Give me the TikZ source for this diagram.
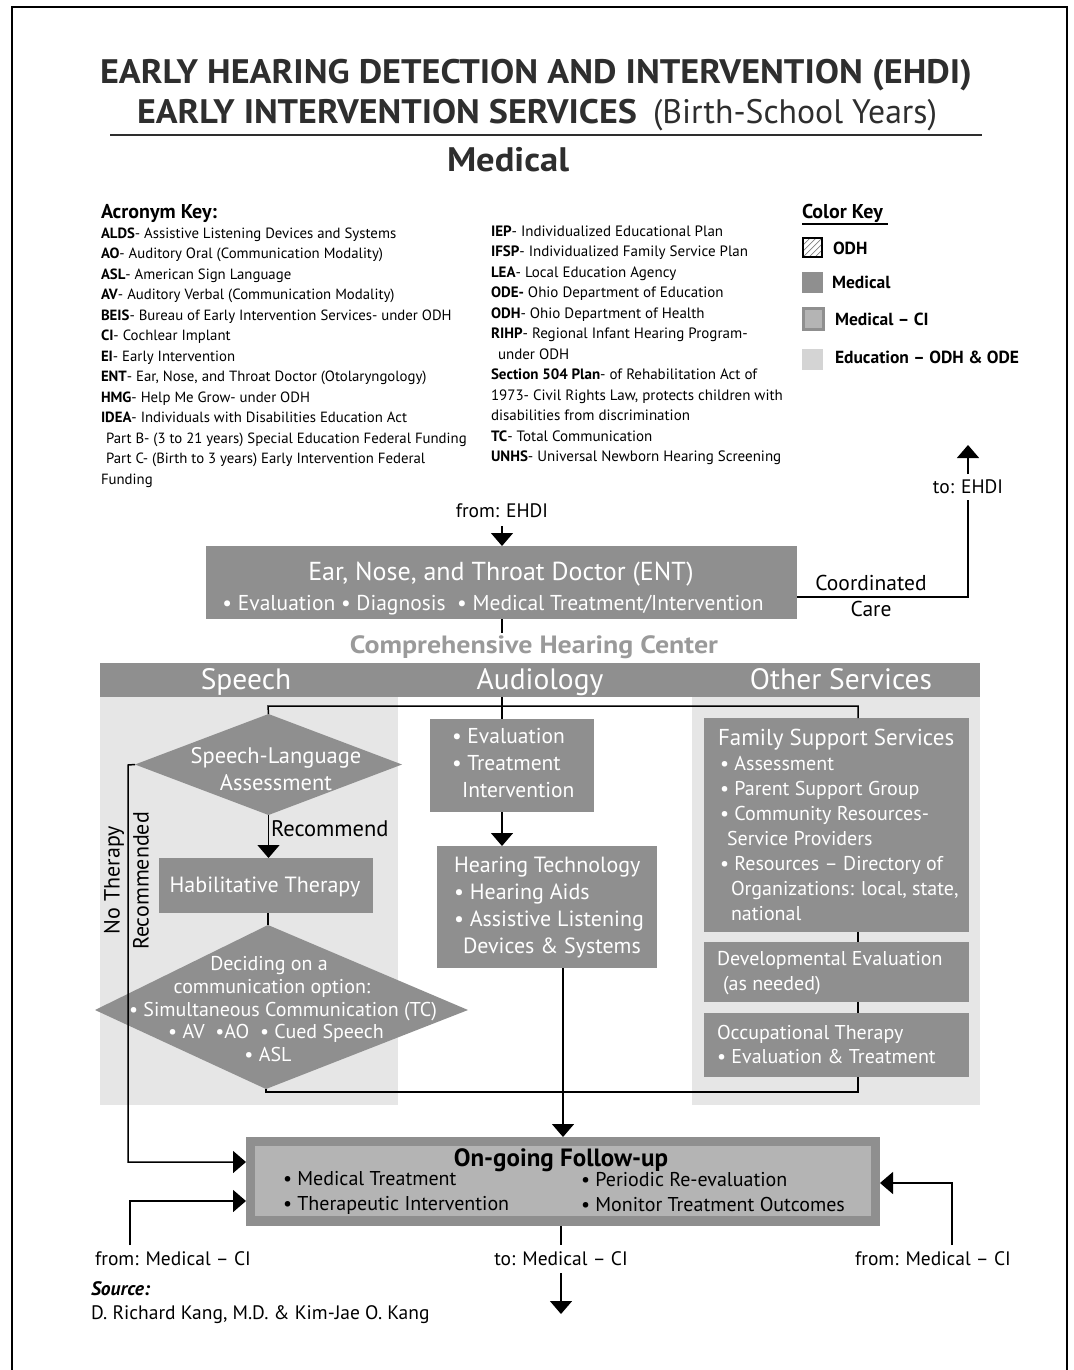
\documentclass[tikz,border=0pt]{standalone}
\usepackage{fontspec}
\usepackage{graphicx}
\setmainfont{PT Sans}
\usetikzlibrary{arrows.meta,shapes.geometric}
\definecolor{medgray}{HTML}{8F8F8F}
\definecolor{lightbg}{HTML}{E6E6E6}
\definecolor{ciinner}{HTML}{B4B4B4}
\definecolor{edugray}{HTML}{D4D4D4}
\definecolor{chcgray}{HTML}{9A9A9A}
\definecolor{titlegray}{HTML}{2E2E2E}
\newcommand{\vtl}[1]{\begin{tabular}[t]{@{}l@{}}#1\end{tabular}}
\newcommand{\vtc}[1]{\begin{tabular}[t]{@{}c@{}}#1\end{tabular}}
\newcommand{\fs}[2]{\fontsize{#1}{#2}\selectfont}
\begin{document}
\begin{tikzpicture}[x=1pt,y=-1pt,
  every node/.style={inner sep=0pt,outer sep=0pt},
  box/.style={fill=medgray,anchor=north west},
  wtxt/.style={text=white},
  conn/.style={line width=1.5pt},
  arr/.style={conn,-{Triangle[width=22pt,length=13pt]}},
  swatch/.style={anchor=north west,minimum width=21pt,minimum height=21pt}]
\useasboundingbox (0,0) rectangle (1073,1370);
% frame
\draw[line width=2.2pt] (12,1375) -- (12,7) -- (1067,7) -- (1067,1375);

% titles
\node[anchor=base,text=titlegray] (title1) at (536,84)
  {\resizebox{872pt}{\height}{\bfseries\fs{34}{36}EARLY HEARING DETECTION AND INTERVENTION (EHDI)}};
\node[anchor=base west,text=titlegray] (title2a) at (137,124)
  {\resizebox{500pt}{\height}{\bfseries\fs{34}{36}EARLY INTERVENTION SERVICES}};
\node[anchor=base west,text=titlegray] (title2b) at (653,124)
  {\resizebox{284pt}{\height}{\fs{34}{36}(Birth-School Years)}};
\draw[titlegray,line width=1.5pt] (110,135) -- (982,135);
\node[anchor=base,text=titlegray] (title3) at (508,171)
  {\resizebox{122pt}{\height}{\bfseries\fs{34}{36}Medical}};

% acronym key
\node[anchor=base west,font=\bfseries\fs{20}{22}] (akey) at (101,218) {Acronym Key:};
\node[anchor=base west,font=\fs{14.8}{20.5}] (acrL) at (101,238) {\vtl{%
\textbf{ALDS}- Assistive Listening Devices and Systems\\
\textbf{AO}- Auditory Oral (Communication Modality)\\
\textbf{ASL}- American Sign Language\\
\textbf{AV}- Auditory Verbal (Communication Modality)\\
\textbf{BEIS}- Bureau of Early Intervention Services- under ODH\\
\textbf{CI}- Cochlear Implant\\
\textbf{EI}- Early Intervention\\
\textbf{ENT}- Ear, Nose, and Throat Doctor (Otolaryngology)\\
\textbf{HMG}- Help Me Grow- under ODH\\
\textbf{IDEA}- Individuals with Disabilities Education Act\\
\hspace*{5pt}Part B- (3 to 21 years) Special Education Federal Funding\\
\hspace*{5pt}Part C- (Birth to 3 years) Early Intervention Federal\\
Funding}};
\node[anchor=base west,font=\fs{15}{20.5}] (acrR) at (491,236) {\vtl{%
\textbf{IEP}- Individualized Educational Plan\\
\textbf{IFSP}- Individualized Family Service Plan\\
\textbf{LEA}- Local Education Agency\\
\textbf{ODE-} Ohio Department of Education\\
\textbf{ODH}- Ohio Department of Health\\
\textbf{RIHP}- Regional Infant Hearing Program-\\
\hspace*{7pt}under ODH\\
\textbf{Section 504 Plan}- of Rehabilitation Act of\\
1973- Civil Rights Law, protects children with\\
disabilities from discrimination\\
\textbf{TC}- Total Communication\\
\textbf{UNHS}- Universal Newborn Hearing Screening}};

% color key
\node[anchor=base west,font=\bfseries\fs{20}{22}] (ckey) at (802,218) {Color Key};
\draw[line width=1.2pt] (802,224) -- (888,224);
\node[swatch,minimum width=19pt,minimum height=19pt] (kodh) at (803,238) {};
\begin{scope}
\clip (803,238) rectangle (822,257);
\foreach \i in {-18,-12,...,18} \draw[gray,line width=0.7pt] (803+\i,257) -- ++(19,-19);
\end{scope}
\draw[line width=1.2pt] (kodh.north west) rectangle (kodh.south east);
\node[anchor=base west,font=\bfseries\fs{17.5}{20}] (kodhT) at (833,254) {ODH};
\node[swatch,fill=medgray] (kmed) at (802,272) {};
\node[anchor=base west,font=\bfseries\fs{17.5}{20}] (kmedT) at (832,288) {Medical};
\node[swatch,fill=ciinner,draw=medgray,line width=3pt,minimum width=20pt,minimum height=21pt] (kci) at (803,308) {};
\node[anchor=base west,font=\bfseries\fs{17.5}{20}] (kciT) at (835,325) {Medical -- CI};
\node[swatch,fill=edugray] (kedu) at (802,349) {};
\node[anchor=base west,font=\bfseries\fs{17.5}{20}] (keduT) at (835,363) {Education -- ODH \& ODE};

% ENT
\node[box,minimum width=591pt,minimum height=73pt] (ent) at (206,546) {};
\node[wtxt,anchor=base,font=\fs{26}{28}] (entT) at (501,580) {Ear, Nose, and Throat Doctor (ENT)};
\node[wtxt,anchor=base,font=\fs{21.5}{24}] (entB) at (493,610) {• Evaluation • Diagnosis\ \ • Medical Treatment/Intervention};
\node[anchor=base,font=\fs{19.5}{22}] (fromEHDI) at (502,517) {from: EHDI};
\node[anchor=base,font=\fs{19.5}{22}] (toEHDI) at (968,493) {to: EHDI};
\coordinate (tipEHDI) at (968,445);
\coordinate (cc1) at (797,597);
\coordinate (cc2) at (968,597);
\node[anchor=base,font=\fs{21.5}{24}] (coordT) at (871,590) {Coordinated};
\node[anchor=base,font=\fs{21.5}{24}] (careT) at (871,616) {Care};
\draw[arr] ([yshift=-9pt]fromEHDI.south) -- (fromEHDI.south |- ent.north);
\draw[arr] ([yshift=5pt]toEHDI.north) -- (tipEHDI);
\draw[conn] ([yshift=-7pt]toEHDI.south) -- (cc2) -- (cc1);
\coordinate (entdown) at (502,633);
\draw[conn] (entdown |- ent.south) -- (entdown);
\node[anchor=base,text=chcgray] (chc) at (534,653) {\resizebox{368pt}{\height}{\bfseries\fs{25}{28}Comprehensive Hearing Center}};

% header band and column backgrounds
\node[fill=lightbg,anchor=north west,minimum width=298pt,minimum height=408pt] (speechbg) at (100,697) {};
\node[fill=lightbg,anchor=north west,minimum width=288pt,minimum height=408pt] (otherbg) at (692,697) {};
\node[box,minimum width=880pt,minimum height=34pt] (hdr) at (100,663) {};
\node[wtxt,anchor=base,font=\fs{29.5}{32}] (hSpeech) at (246,689) {Speech};
\node[wtxt,anchor=base,font=\fs{29.5}{32}] (hAud) at (540,689) {Audiology};
\node[wtxt,anchor=base,font=\fs{29.5}{32}] (hOther) at (841,689) {Other Services};

% speech column
\node[diamond,fill=medgray,minimum width=267pt,minimum height=101pt] (sla) at (268.5,764.5) {};
\node[wtxt,anchor=base,font=\fs{22.5}{27}] (slaT) at (276,763) {\vtc{Speech-Language\\Assessment}};
\node[box,minimum width=214pt,minimum height=55pt] (habil) at (159,858) {};
\node[wtxt,anchor=base,font=\fs{22}{24}] (habilT) at (265,892) {Habilitative Therapy};
\coordinate (d2t) at (268,925);
\coordinate (d2r) at (468,1010);
\coordinate (d2b) at (266,1089);
\coordinate (d2l) at (95,1010);
\fill[medgray] (d2t) -- (d2r) -- (d2b) -- (d2l) -- cycle;
\node[wtxt,anchor=base,font=\fs{20}{22}] (dc1) at (269,970) {Deciding on a};
\node[wtxt,anchor=base,font=\fs{20}{22}] (dc2) at (272,993) {communication option:};
\node[wtxt,anchor=base,font=\fs{20}{22}] (dc3) at (283,1016) {• Simultaneous Communication (TC)};
\node[wtxt,anchor=base,font=\fs{20}{22}] (dc4) at (276,1038) {• AV\ \ •AO\ \ • Cued Speech};
\node[wtxt,anchor=base,font=\fs{20}{22}] (dc5) at (268,1061) {• ASL};
\node[anchor=base west,font=\fs{22.5}{24}] (recT) at (271,836) {Recommend};
\draw[arr] (sla.south) -- (habil.north -| sla.south);
\draw[conn] (habil.south -| d2t) -- (d2t);
\node[rotate=90,font=\fs{22}{24}] (ntA) at (114,880) {No Therapy};
\node[rotate=90,font=\fs{22}{24}] (ntB) at (141,881) {Recommended};

% audiology column
\node[box,minimum width=164pt,minimum height=93pt] (aud1) at (430,719) {};
\node[wtxt,anchor=base west,font=\fs{21.5}{27}] (aud1T) at (452,743) {\vtl{• Evaluation\\• Treatment\\\hspace*{10pt}Intervention}};
\node[box,minimum width=220pt,minimum height=122pt] (hear) at (437,846) {};
\node[wtxt,anchor=base west,font=\fs{22}{27}] (hearT) at (454,872) {\vtl{Hearing Technology\\• Hearing Aids\\• Assistive Listening\\\hspace*{9pt}Devices \& Systems}};
\draw[conn] (hdr.south -| entdown) -- (aud1.north -| entdown);
\draw[arr] (aud1.south -| entdown) -- (hear.north -| entdown);

% other services column
\node[box,minimum width=265pt,minimum height=214pt] (fam) at (704,718) {};
\node[wtxt,anchor=base west,font=\fs{23}{26}] (famT) at (718,745) {Family Support Services};
\node[wtxt,anchor=base west,font=\fs{20}{25}] (famB) at (720,770) {\vtl{• Assessment\\• Parent Support Group\\• Community Resources-\\\hspace*{7pt}Service Providers\\• Resources -- Directory of\\\hspace*{11pt}Organizations: local, state,\\\hspace*{11pt}national}};
\node[box,minimum width=265pt,minimum height=60pt] (dev) at (704,942) {};
\node[wtxt,anchor=base west,font=\fs{20}{25}] (devT) at (717,965) {\vtl{Developmental Evaluation\\\hspace*{6pt}(as needed)}};
\node[box,minimum width=265pt,minimum height=64pt] (ot) at (704,1013) {};
\node[wtxt,anchor=base west,font=\fs{20}{24}] (otT) at (717,1039) {\vtl{Occupational Therapy\\• Evaluation \& Treatment}};

% connectors between columns
\coordinate (t1) at (268,706);
\coordinate (t2) at (858,706);
\coordinate (b1) at (266,1092);
\coordinate (b2) at (858,1092);
\draw[conn] (sla.north) -- (t1) -- (t2) -- (t2 |- fam.north);
\draw[conn] (fam.south -| t2) -- (dev.north -| t2);
\draw[conn] (dev.south -| t2) -- (ot.north -| t2);
\draw[conn] (d2b) -- (b1) -- (b2) -- (ot.south -| b2);

% follow-up
\node[box,minimum width=634pt,minimum height=89pt] (fu) at (246,1137) {};
\node[fill=ciinner,anchor=north west,minimum width=616pt,minimum height=70pt] (fuin) at (255,1146) {};
\node[anchor=base,font=\bfseries\fs{25}{26}] (fuT) at (561,1166) {On-going Follow-up};
\node[anchor=base west,font=\fs{20}{25}] (fuL) at (283,1185) {\vtl{• Medical Treatment\\• Therapeutic Intervention}};
\node[anchor=base west,font=\fs{20}{25}] (fuR) at (581,1186) {\vtl{• Periodic Re-evaluation\\• Monitor Treatment Outcomes}};
\coordinate (h1) at (563,968);
\draw[arr] (h1) -- (h1 |- fu.north);
\coordinate (nt1) at (128,765);
\coordinate (nt2) at (128,1162);
\draw[arr] (sla.west) -- (nt1) -- (nt2) -- (nt2 -| fu.west);
\node[anchor=base,font=\fs{19.5}{22}] (fmL) at (173,1265) {from: Medical -- CI};
\node[anchor=base,font=\fs{19.5}{22}] (fmR) at (933,1265) {from: Medical -- CI};
\node[anchor=base,font=\fs{19.5}{22}] (toM) at (561,1265) {to: Medical -- CI};
\coordinate (fl1) at (130,1245);
\coordinate (fl2) at (130,1201);
\coordinate (fr1) at (952,1245);
\coordinate (fr2) at (952,1183);
\coordinate (tm1) at (561,1245);
\coordinate (tm2) at (561,1273);
\coordinate (tm3) at (561,1314);
\draw[arr] (fl1) -- (fl2) -- (fl2 -| fu.west);
\draw[arr] (fr1) -- (fr2) -- (fr2 -| fu.east);
\draw[conn] (tm1 |- fu.south) -- (tm1);
\draw[arr] (tm2) -- (tm3);

% source
\node[anchor=base west,font=\bfseries\itshape\fs{19.5}{22}] (srcT) at (91,1295) {Source:};
\node[anchor=base west,font=\fs{19.5}{22}] (srcB) at (91,1319) {D. Richard Kang, M.D. \& Kim-Jae O. Kang};
\end{tikzpicture}
\end{document}
